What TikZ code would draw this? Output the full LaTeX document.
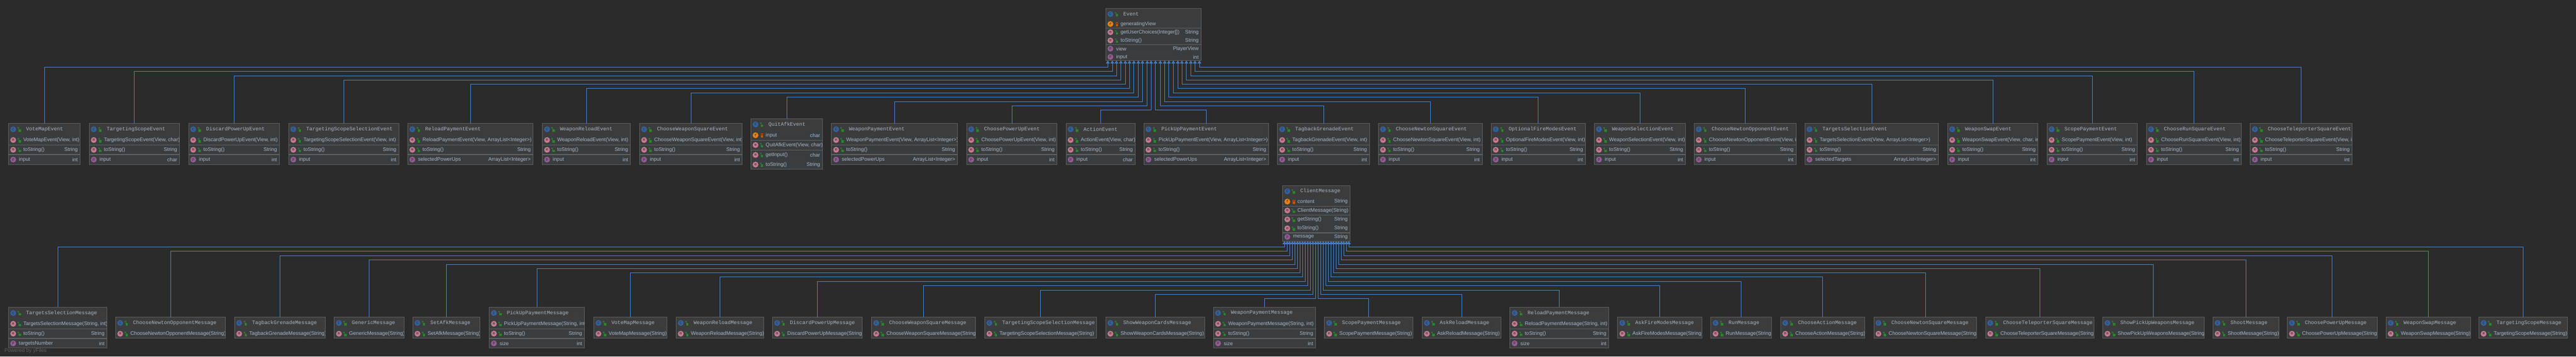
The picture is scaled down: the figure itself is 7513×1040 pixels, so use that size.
\documentclass[tikz,border=0pt]{standalone}
\usepackage{fontspec}
\setmainfont{Liberation Sans}
\setmonofont{Liberation Mono}
\usetikzlibrary{arrows.meta}

\definecolor{bgcol}{HTML}{2B2B2B}
\definecolor{headcol}{HTML}{3C3C3C}
\definecolor{bodycol}{HTML}{3A3D3F}
\definecolor{framecol}{HTML}{626262}
\definecolor{inkcol}{HTML}{A9B7C6}
\definecolor{linecol}{HTML}{4B8FE2}

% frame with title; #7 are the rows, clipped to the frame
\newcommand{\classbox}[7]{
    \node[classbody, minimum width={(#3-#2)*1pt}, minimum height={(#5-#4)*1pt}] (#1) at (#2,#4) {};
    \node[classhead, minimum width={(#3-#2)*1pt}] (#1-head) at (#2,#4) {};
    \begin{scope}
        \clip (#1.north west) rectangle (#1.south east);
        \node[iconc] (#1-icon) at ([shift={(13.5,17)}]#1.north west) {C};
        \pic at ([shift={(33,17)}]#1.north west) {openlock};
        \node[titletext] (#1-title) at ([shift={(51,17)}]#1.north west) {#6};
        #7
    \end{scope}
    \node[classframe, minimum width={(#3-#2)*1pt}, minimum height={(#5-#4)*1pt}] (#1-frame) at (#2,#4) {};
}
% box, tag, row centre, icon style, text x, text
\newcommand{\classrow}[6]{
    \node[#4] (#1-#2-icon) at ([shift={(13.5,#3)}]#1.north west) {\csname icon#4\endcsname};
    \node[rowtext] (#1-#2) at ([shift={(#5,#3)}]#1.north west) {#6};
}
\newcommand{\rowmethod}[4]{
    \classrow{#1}{#2}{#3}{iconm}{43}{#4}
    \pic at ([shift={(33,#3)}]#1.north west) {openlock};
}
\newcommand{\rowtype}[4]{
    \node[rowtype] (#1-#2-type) at ([shift={(-7,#3)}]#1.north east) {#4};
}
\newcommand{\rowsep}[2]{
    \draw[thin line] ([shift={(0,#2)}]#1.north west) -- ([shift={(0,#2)}]#1.north east);
}
\newcommand{\rowsepthick}[2]{
    \draw[thick line] ([shift={(0,#2)}]#1.north west) -- ([shift={(0,#2)}]#1.north east);
}
\newcommand{\iconiconm}{m}
\newcommand{\iconiconf}{f}
\newcommand{\iconiconp}{p}

% name, left, right, title, ctor params, property, type
\newcommand{\eventbox}[7]{
    \classbox{#1}{#2}{#3}{360}{480}{#4}{
        \rowmethod{#1}{ctor}{48.5}{#4(#5)}
        \rowsep{#1}{63}
        \rowmethod{#1}{str}{77}{toString()}
        \rowtype{#1}{str}{77}{String}
        \rowsepthick{#1}{91}
        \classrow{#1}{prop}{105.5}{iconp}{30}{#6}
        \rowtype{#1}{prop}{105.5}{#7}
    }
}
% name, left, right, title
\newcommand{\msgbox}[4]{
    \classbox{#1}{#2}{#3}{925}{986}{#4}{
        \rowmethod{#1}{ctor}{48.5}{#4(String)}
    }
}
% name, left, right, title, property
\newcommand{\msgpropbox}[5]{
    \classbox{#1}{#2}{#3}{896}{1015}{#4}{
        \rowmethod{#1}{ctor}{48.5}{#4(String, int)}
        \rowsep{#1}{63}
        \rowmethod{#1}{str}{77}{toString()}
        \rowtype{#1}{str}{77}{String}
        \rowsepthick{#1}{91}
        \classrow{#1}{prop}{105.5}{iconp}{30}{#5}
        \rowtype{#1}{prop}{105.5}{int}
    }
}

\begin{document}
\begin{tikzpicture}[x=1pt,y=-1pt,
    classbody/.style={rectangle,fill=bodycol,anchor=north west,inner sep=0,outer sep=0},
    classhead/.style={rectangle,fill=headcol,anchor=north west,inner sep=0,outer sep=0,minimum height=34pt},
    classframe/.style={rectangle,draw=framecol,line width=1.4pt,anchor=north west,inner sep=0,outer sep=0},
    titletext/.style={anchor=west,inner sep=0,text=inkcol,font=\fontsize{15}{18}\ttfamily},
    rowtext/.style={anchor=west,inner sep=0,text=inkcol,font=\fontsize{15}{18}\selectfont},
    rowtype/.style={anchor=east,inner sep=0,text=inkcol,font=\fontsize{15}{18}\selectfont},
    iconc/.style={circle,fill=teal!60!blue!75!white!80!black,text=bgcol,minimum size=17pt,inner sep=0,font=\fontsize{11}{12}\ttfamily},
    iconm/.style={circle,fill=pink!45!purple!65!white!85!black,text=bgcol,minimum size=17pt,inner sep=0,font=\fontsize{11}{12}\ttfamily},
    iconf/.style={circle,fill=orange!65!brown,text=bgcol,minimum size=17pt,inner sep=0,font=\fontsize{11}{12}\ttfamily},
    iconp/.style={circle,fill=violet!55!white!80!black,text=bgcol,minimum size=17pt,inner sep=0,font=\fontsize{11}{12}\ttfamily},
    thin line/.style={draw=framecol,line width=1pt},
    thick line/.style={draw=framecol,line width=2.4pt},
    inherit/.style={draw=linecol,line width=1.2pt,-{Triangle[fill=linecol!70!bgcol,length=8pt,width=11pt,line width=1pt]}},
    openlock/.pic={
        \fill[green!45!black!85!white] (-4,0) rectangle (3,7);
        \draw[green!45!black!85!white,line width=1.2pt] (-3,0) -- (-3,-5) -- (-6,-5) -- (-6,-2);
    },
    closedlock/.pic={
        \fill[orange!80!red!80!black] (-4,0) rectangle (3,7);
        \draw[orange!80!red!80!black,line width=1.2pt] (-3,0) -- (-3,-5) -- (2,-5) -- (2,0);
    }]

    \fill[bgcol] (0,0) rectangle (7513,1040);

    % superclass of the event row
    \classbox{event}{3225}{3503}{24}{177}{Event}{
        \classrow{event}{gen}{46}{iconf}{43}{generatingView}
        \pic at ([shift={(33,46)}]event.north west) {closedlock};
        \rowsep{event}{58}
        \rowmethod{event}{user}{70}{getUserChoices(Integer[])}
        \rowtype{event}{user}{70}{String}
        \rowmethod{event}{str}{94}{toString()}
        \rowtype{event}{str}{94}{String}
        \rowsepthick{event}{106}
        \classrow{event}{view}{118}{iconp}{30}{view}
        \rowtype{event}{view}{118}{PlayerView}
        \classrow{event}{input}{142}{iconp}{30}{input}
        \rowtype{event}{input}{142}{int}
    }

    \eventbox{vote}{25}{234}{VoteMapEvent}{View, int}{input}{int}
    \eventbox{tscope}{260}{524}{TargetingScopeEvent}{View, char}{input}{char}
    \eventbox{discard}{550}{815}{DiscardPowerUpEvent}{View, int}{input}{int}
    \eventbox{tselect}{842}{1163}{TargetingScopeSelectionEvent}{View, int}{input}{int}
    \eventbox{reloadpay}{1189}{1555}{ReloadPaymentEvent}{View, ArrayList<Integer>}{selectedPowerUps}{ArrayList<Integer>}
    \eventbox{reload}{1582}{1839}{WeaponReloadEvent}{View, int}{input}{int}
    \eventbox{wsquare}{1865}{2165}{ChooseWeaponSquareEvent}{View, int}{input}{int}
    \classbox{quit}{2190}{2399}{346}{494}{QuitAfkEvent}{
        \classrow{quit}{in}{48.5}{iconf}{43}{input}
        \pic at ([shift={(33,48.5)}]quit.north west) {closedlock};
        \rowtype{quit}{in}{48.5}{char}
        \rowsep{quit}{63}
        \rowmethod{quit}{ctor}{77}{QuitAfkEvent(View, char)}
        \rowsep{quit}{92}
        \rowmethod{quit}{get}{106}{getInput()}
        \rowtype{quit}{get}{106}{char}
        \rowmethod{quit}{str}{134}{toString()}
        \rowtype{quit}{str}{134}{String}
    }
    \eventbox{wpay}{2425}{2793}{WeaponPaymentEvent}{View, ArrayList<Integer>}{selectedPowerUps}{ArrayList<Integer>}
    \eventbox{power}{2819}{3083}{ChoosePowerUpEvent}{View, int}{input}{int}
    \eventbox{action}{3109}{3311}{ActionEvent}{View, char}{input}{char}
    \eventbox{pickpay}{3336}{3700}{PickUpPaymentEvent}{View, ArrayList<Integer>}{selectedPowerUps}{ArrayList<Integer>}
    \eventbox{tag}{3726}{3994}{TagbackGrenadeEvent}{View, int}{input}{int}
    \eventbox{nsquare}{4020}{4323}{ChooseNewtonSquareEvent}{View, int}{input}{int}
    \eventbox{fire}{4349}{4624}{OptionalFireModesEvent}{View, int}{input}{int}
    \eventbox{wselect}{4650}{4916}{WeaponSelectionEvent}{View, int}{input}{int}
    \eventbox{nopp}{4941}{5238}{ChooseNewtonOpponentEvent}{View, int}{input}{int}
    \eventbox{targets}{5264}{5654}{TargetsSelectionEvent}{View, ArrayList<Integer>}{selectedTargets}{ArrayList<Integer>}
    \eventbox{swap}{5680}{5944}{WeaponSwapEvent}{View, char, int}{input}{int}
    \eventbox{scope}{5970}{6234}{ScopePaymentEvent}{View, int}{input}{int}
    \eventbox{run}{6260}{6537}{ChooseRunSquareEvent}{View, int}{input}{int}
    \eventbox{tele}{6563}{6860}{ChooseTeleporterSquareEvent}{View, int}{input}{int}

    \foreach \n/\port/\lev in {vote/3231/196,tscope/3244/208,discard/3256/221,tselect/3269/233,
        reloadpay/3282/246,reload/3294/258,wsquare/3307/271,quit/3320/283,wpay/3332/296,
        power/3346/308,action/3357/321,pickpay/3370/321,tag/3384/308,nsquare/3397/296,
        fire/3409/283,wselect/3422/271,nopp/3435/258,targets/3447/246,swap/3460/233,
        scope/3473/221,run/3485/208,tele/3498/196}
        \draw[inherit] (\n.north) |- (\port,\lev) -- ([shift={(\port-3225,0)}]event.south west);

    % superclass of the message row
    \classbox{client}{3741}{3938}{541}{704}{ClientMessage}{
        \classrow{client}{cont}{47}{iconf}{43}{content}
        \pic at ([shift={(33,47)}]client.north west) {closedlock};
        \rowtype{client}{cont}{47}{String}
        \rowsep{client}{60}
        \rowmethod{client}{ctor}{73}{ClientMessage(String)}
        \rowsep{client}{86}
        \rowmethod{client}{get}{99}{getString()}
        \rowtype{client}{get}{99}{String}
        \rowmethod{client}{str}{125}{toString()}
        \rowtype{client}{str}{125}{String}
        \rowsepthick{client}{138}
        \classrow{client}{msg}{150}{iconp}{30}{message}
        \rowtype{client}{msg}{150}{String}
    }

    \msgpropbox{mtargets}{25}{312}{TargetsSelectionMessage}{targetsNumber}
    \msgbox{mnopp}{337}{658}{ChooseNewtonOpponentMessage}
    \msgbox{mtag}{684}{949}{TagbackGrenadeMessage}
    \msgbox{mgeneric}{975}{1178}{GenericMessage}
    \msgbox{mafk}{1204}{1400}{SetAfkMessage}
    \msgpropbox{mpick}{1427}{1705}{PickUpPaymentMessage}{size}
    \msgbox{mvote}{1732}{1945}{VoteMapMessage}
    \msgbox{mreload}{1972}{2227}{WeaponReloadMessage}
    \msgbox{mdiscard}{2253}{2515}{DiscardPowerUpMessage}
    \msgbox{mwsquare}{2542}{2845}{ChooseWeaponSquareMessage}
    \msgbox{mtselect}{2872}{3198}{TargetingScopeSelectionMessage}
    \msgbox{mshowcards}{3225}{3513}{ShowWeaponCardsMessage}
    \msgpropbox{mwpay}{3539}{3837}{WeaponPaymentMessage}{size}
    \msgbox{mscope}{3863}{4121}{ScopePaymentMessage}
    \msgbox{maskreload}{4148}{4378}{AskReloadMessage}
    \msgpropbox{mreloadpay}{4404}{4692}{ReloadPaymentMessage}{size}
    \msgbox{mfire}{4718}{4964}{AskFireModesMessage}
    \msgbox{mrun}{4990}{5167}{RunMessage}
    \msgbox{maction}{5193}{5438}{ChooseActionMessage}
    \msgbox{mnsquare}{5465}{5765}{ChooseNewtonSquareMessage}
    \msgbox{mtele}{5791}{6107}{ChooseTeleporterSquareMessage}
    \msgbox{mshowpick}{6133}{6428}{ShowPickUpWeaponsMessage}
    \msgbox{mshoot}{6454}{6646}{ShootMessage}
    \msgbox{mpower}{6671}{6933}{ChoosePowerUpMessage}
    \msgbox{mswap}{6959}{7206}{WeaponSwapMessage}
    \msgbox{mtscope}{7230}{7488}{TargetingScopeMessage}

    \foreach \n/\port/\lev in {mtargets/3746/721,mnopp/3754/733,mtag/3761/746,mgeneric/3769/758,
        mafk/3776/771,mpick/3784/783,mvote/3791/796,mreload/3799/808,mdiscard/3806/821,
        mwsquare/3814/833,mtselect/3821/846,mshowcards/3829/858,mwpay/3837/871,mscope/3844/871,
        maskreload/3851/858,mreloadpay/3859/846,mfire/3867/833,mrun/3874/821,maction/3882/808,
        mnsquare/3889/796,mtele/3897/783,mshowpick/3904/771,mshoot/3912/758,mpower/3919/746,
        mswap/3927/733,mtscope/3934/721}
        \draw[inherit] (\n.north) |- (\port,\lev) -- ([shift={(\port-3741,0)}]client.south west);

    \node[anchor=west,inner sep=0,text=framecol,font=\fontsize{15}{18}\selectfont] (powered) at (13,1023) {Powered by yFiles};
\end{tikzpicture}
\end{document}
